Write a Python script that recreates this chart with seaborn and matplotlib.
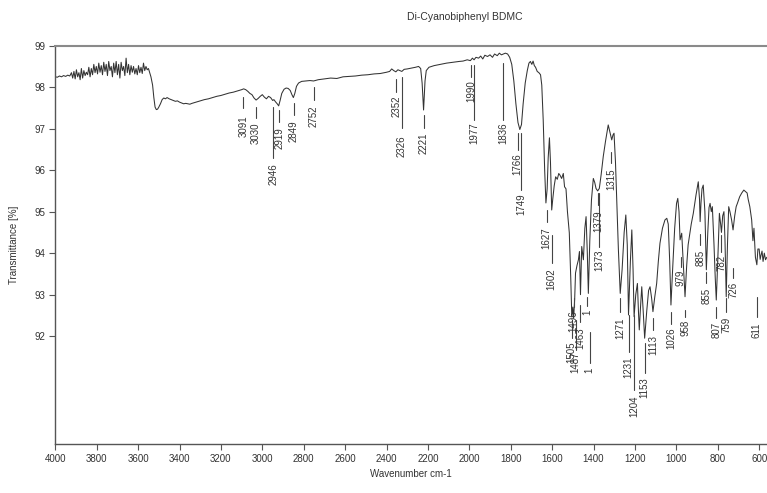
import matplotlib
matplotlib.use("Agg")
import matplotlib.pyplot as plt
import seaborn as sns
import pandas as pd

# ---------------- data ----------------
wavenumber = [
    4000, 3990, 3980, 3970, 3960, 3950, 3940, 3930, 3922, 3916, 3910, 3904, 3898, 3892, 3886, 3880,
    3874, 3868, 3862, 3856, 3850, 3844, 3838, 3832, 3826, 3820, 3814, 3808, 3802, 3796, 3790, 3784,
    3778, 3772, 3766, 3760, 3754, 3748, 3742, 3736, 3730, 3724, 3718, 3712, 3706, 3700, 3694, 3688,
    3682, 3676, 3670, 3664, 3658, 3652, 3646, 3640, 3634, 3628, 3622, 3616, 3610, 3604, 3598, 3592,
    3586, 3580, 3574, 3568, 3562, 3556, 3550, 3544, 3538, 3530, 3524, 3518, 3512, 3506, 3500, 3492,
    3484, 3476, 3468, 3460, 3450, 3440, 3430, 3420, 3410, 3400, 3390, 3380, 3370, 3360, 3350, 3340,
    3320, 3300, 3280, 3260, 3240, 3220, 3200, 3180, 3160, 3140, 3120, 3100, 3090, 3080, 3070, 3060,
    3050, 3040, 3030, 3020, 3010, 3000, 2990, 2980, 2970, 2960, 2950, 2944, 2935, 2928, 2921, 2914,
    2906, 2895, 2885, 2875, 2865, 2857, 2850, 2843, 2835, 2825, 2810, 2790, 2770, 2752, 2730, 2700,
    2670, 2640, 2610, 2580, 2550, 2520, 2490, 2460, 2430, 2400, 2385, 2375, 2365, 2355, 2345, 2335,
    2326, 2315, 2300, 2280, 2260, 2245, 2235, 2228, 2224, 2221, 2218, 2214, 2208, 2195, 2170, 2140,
    2110, 2080, 2050, 2030, 2010, 1995, 1985, 1977, 1968, 1955, 1945, 1935, 1925, 1912, 1900, 1888,
    1878, 1865, 1855, 1845, 1836, 1826, 1815, 1805, 1795, 1785, 1775, 1765, 1756, 1748, 1740, 1730,
    1720, 1712, 1705, 1698, 1692, 1686, 1680, 1672, 1664, 1656, 1650, 1643, 1636, 1630, 1624, 1619,
    1613, 1608, 1602, 1597, 1590, 1583, 1575, 1568, 1562, 1554, 1546, 1540, 1533, 1526, 1517, 1510,
    1505, 1500, 1496, 1491, 1487, 1480, 1473, 1468, 1463, 1457, 1449, 1442, 1436, 1430, 1425, 1418,
    1410, 1401, 1394, 1388, 1380, 1372, 1363, 1353, 1342, 1329, 1320, 1312, 1306, 1301, 1294, 1288,
    1280, 1271, 1262, 1252, 1244, 1237, 1231, 1222, 1215, 1209, 1204, 1196, 1188, 1183, 1179, 1173,
    1167, 1160, 1153, 1143, 1134, 1127, 1119, 1113, 1104, 1095, 1087, 1079, 1067, 1055, 1046, 1039,
    1032, 1026, 1018, 1008, 999, 993, 987, 982, 978, 974, 966, 958, 950, 943, 937, 928,
    918, 905, 894, 888, 885, 881, 876, 870, 862, 855, 848, 842, 837, 831, 826, 818,
    812, 807, 800, 792, 786, 782, 776, 770, 765, 759, 753, 747, 741, 733, 726, 718,
    711, 705, 694, 684, 674, 665, 658, 653, 645, 636, 630, 625, 618, 611, 606, 600,
    595, 591, 586, 581, 575, 569, 563,
]
transmittance = [
    98.25, 98.24, 98.27, 98.25, 98.28, 98.26, 98.29, 98.27, 98.35, 98.22, 98.38, 98.20, 98.42, 98.25, 98.35, 98.18,
    98.45, 98.22, 98.40, 98.28, 98.36, 98.30, 98.48, 98.25, 98.45, 98.30, 98.55, 98.35, 98.50, 98.32, 98.58, 98.36,
    98.52, 98.30, 98.60, 98.38, 98.55, 98.28, 98.62, 98.40, 98.50, 98.25, 98.58, 98.35, 98.62, 98.30, 98.55, 98.22,
    98.60, 98.40, 98.50, 98.28, 98.70, 98.35, 98.55, 98.30, 98.52, 98.36, 98.50, 98.32, 98.45, 98.30, 98.52, 98.35,
    98.48, 98.33, 98.58, 98.40, 98.50, 98.42, 98.45, 98.35, 98.25, 98.05, 97.75, 97.52, 97.46, 97.47, 97.52, 97.60,
    97.70, 97.74, 97.72, 97.75, 97.72, 97.70, 97.68, 97.66, 97.67, 97.64, 97.62, 97.60, 97.61, 97.60, 97.59, 97.61,
    97.64, 97.67, 97.70, 97.72, 97.75, 97.78, 97.80, 97.83, 97.86, 97.88, 97.91, 97.94, 97.96, 97.94, 97.90, 97.85,
    97.82, 97.74, 97.69, 97.73, 97.78, 97.82, 97.76, 97.72, 97.78, 97.75, 97.68, 97.70, 97.64, 97.60, 97.55, 97.68,
    97.85, 97.95, 97.98, 97.97, 97.92, 97.82, 97.75, 97.85, 98.02, 98.10, 98.14, 98.15, 98.16, 98.15, 98.18, 98.20,
    98.22, 98.21, 98.25, 98.26, 98.27, 98.29, 98.30, 98.32, 98.33, 98.36, 98.38, 98.44, 98.40, 98.37, 98.42, 98.40,
    98.38, 98.43, 98.44, 98.46, 98.48, 98.50, 98.45, 98.10, 97.70, 97.45, 97.75, 98.15, 98.40, 98.48, 98.52, 98.55,
    98.58, 98.60, 98.62, 98.63, 98.66, 98.64, 98.70, 98.66, 98.72, 98.70, 98.75, 98.68, 98.77, 98.74, 98.78, 98.72,
    98.80, 98.76, 98.82, 98.78, 98.80, 98.82, 98.80, 98.72, 98.55, 98.15, 97.60, 97.15, 96.98, 97.10, 97.60, 98.10,
    98.40, 98.58, 98.62, 98.55, 98.63, 98.52, 98.48, 98.38, 98.35, 98.30, 98.05, 97.20, 96.00, 95.21, 95.55, 96.30,
    96.78, 96.20, 95.04, 95.30, 95.62, 95.84, 95.78, 95.92, 95.88, 95.80, 95.92, 95.60, 95.55, 95.00, 94.49, 93.40,
    92.47, 92.70, 92.43, 92.90, 93.52, 93.70, 93.84, 94.04, 93.00, 94.16, 93.84, 94.60, 94.88, 94.00, 93.03, 94.30,
    95.28, 95.80, 95.70, 95.56, 95.50, 95.56, 95.90, 96.33, 96.70, 97.09, 96.90, 96.73, 96.85, 96.89, 96.20, 95.28,
    94.10, 93.03, 93.60, 94.50, 94.92, 94.20, 92.51, 93.80, 94.56, 93.60, 92.47, 93.00, 93.27, 92.60, 92.15, 92.70,
    93.19, 92.60, 91.95, 92.60, 93.10, 93.19, 92.90, 92.59, 92.95, 93.27, 93.80, 94.24, 94.60, 94.80, 94.84, 94.70,
    93.80, 92.75, 93.60, 94.60, 95.20, 95.32, 95.00, 94.32, 94.40, 94.48, 93.70, 92.95, 93.70, 94.20, 94.40, 94.70,
    94.96, 95.40, 95.72, 95.30, 94.76, 95.20, 95.55, 95.64, 95.00, 93.60, 94.50, 95.10, 95.20, 95.00, 95.12, 94.20,
    93.40, 92.87, 93.80, 94.96, 94.70, 94.50, 94.90, 95.00, 94.32, 92.95, 94.20, 95.12, 95.00, 94.80, 94.56, 94.90,
    95.12, 95.20, 95.36, 95.45, 95.52, 95.48, 95.45, 95.30, 95.12, 94.80, 94.30, 94.60, 93.90, 93.72, 94.10, 94.10,
    93.85, 93.95, 94.05, 93.80, 94.00, 93.84, 93.90,
]

peak_labels = ["3091", "3030", "2946", "2919", "2849", "2752", "2352", "2326", "2221", "1990",
               "1977", "1836", "1766", "1749", "1627", "1602", "1379", "1373", "1315", "1505",
               "1496", "1487", "1463", "1", "1", "1271", "1231", "1204", "1153", "1113",
               "1026", "979", "958", "885", "855", "807", "782", "759", "726", "611"]
peak_wavenumber = [3091, 3030, 2946, 2919, 2849, 2752, 2352, 2326, 2221, 1990,
                   1977, 1836, 1766, 1749, 1627, 1602, 1379, 1373, 1315, 1505,
                   1496, 1487, 1463, 1432, 1418, 1271, 1231, 1204, 1153, 1113,
                   1026, 979, 958, 885, 855, 807, 782, 759, 726, 611]

# annotation layout (y in transmittance units): marker top, marker bottom, text top
marker_top = [97.76, 97.52, 97.52, 97.45, 97.62, 98.00, 98.20, 98.25, 97.33, 98.53,
              98.53, 98.58, 96.90, 96.90, 95.04, 94.44, 95.45, 95.45, 96.44, 92.39,
              92.92, 92.39, 92.75, 92.95, 92.10, 92.92, 92.51, 92.51, 91.84, 92.44,
              92.58, 93.91, 92.63, 94.46, 93.54, 92.70, 94.44, 92.92, 93.64, 92.94]
marker_bottom = [97.50, 97.26, 96.29, 97.16, 97.33, 97.69, 97.88, 97.02, 97.02, 98.25,
                 97.21, 97.21, 96.49, 95.52, 94.75, 93.76, 95.16, 94.15, 96.17, 91.96,
                 92.70, 91.67, 92.34, 92.72, 91.35, 92.58, 91.62, 90.70, 91.11, 92.15,
                 92.29, 93.67, 92.46, 94.20, 93.28, 92.44, 94.03, 92.58, 93.41, 92.46]
text_top = [97.33, 97.14, 96.17, 97.04, 97.21, 97.57, 97.81, 96.85, 96.90, 98.17,
            97.16, 97.16, 96.41, 95.45, 94.61, 93.64, 95.04, 94.08, 96.05, 91.86,
            92.63, 91.62, 92.22, 92.64, 91.25, 92.46, 91.50, 90.58, 91.02, 92.03,
            92.20, 93.60, 92.39, 94.08, 93.16, 92.34, 93.95, 92.46, 93.31, 92.34]

x_ticks = list(range(4000, 599, -200))
y_ticks = [92, 93, 94, 95, 96, 97, 98, 99]

# ---------------- figure ----------------
sns.set_style("ticks")
plt.rcParams["font.family"] = ["Liberation Sans", "DejaVu Sans"]

ink = "#333333"
fig = plt.figure(figsize=(7.67, 4.93), dpi=100)
ax = fig.add_axes([55.3 / 767, 1 - 444 / 493, 1 - 55.3 / 767, (444 - 45.7) / 493])

df = pd.DataFrame({"Wavenumber": wavenumber, "T": transmittance})
sns.lineplot(data=df, x="Wavenumber", y="T", ax=ax, color=ink, lw=0.75,
             estimator=None, sort=False)

for lab, w, t1, t2, tt in zip(peak_labels, peak_wavenumber, marker_top, marker_bottom, text_top):
    ax.plot([w, w], [t1, t2], color="#444444", lw=0.8)
    ax.text(w, tt, lab, rotation=90, ha="center", va="top", fontsize=7, color=ink)

ax.set_xlim(4000, 562)
ax.set_ylim(89.4, 99)
ax.set_xticks(x_ticks)
ax.set_yticks(y_ticks)
ax.tick_params(axis="both", direction="out", length=4, width=0.8, color="#555555",
               labelsize=7, labelcolor="#333333", pad=3)
ax.set_xlabel("Wavenumber cm-1", fontsize=7, color="#333333", labelpad=4)
ax.set_ylabel("Transmittance [%]", fontsize=7, color="#333333", labelpad=11)
for side in ["left", "bottom"]:
    ax.spines[side].set_color("#555555")
    ax.spines[side].set_linewidth(1.0)
ax.spines["top"].set_color("#8a8a8a")
ax.spines["top"].set_linewidth(1.5)
ax.spines["right"].set_visible(False)

fig.text(465 / 767, 1 - 17 / 493, "Di-Cyanobiphenyl BDMC", ha="center", va="center",
         fontsize=7.5, color="#333333")

fig.savefig("out.png", dpi=100)
